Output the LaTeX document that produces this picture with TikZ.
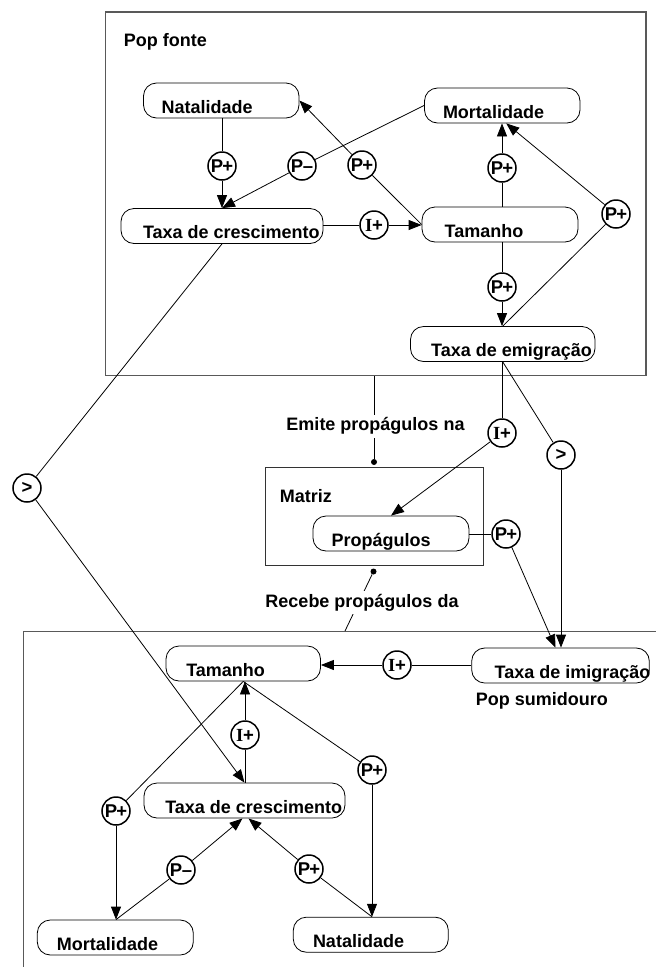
\documentclass[tikz,border=0pt]{standalone}
\usepackage{fontspec}
\setmainfont{Liberation Sans}
\newfontfamily\serifI{Liberation Serif}
\usetikzlibrary{arrows.meta}
\newcommand\bt[3]{\makebox[#1pt][l]{\hspace*{#2pt}#3}}
\begin{document}
\begin{tikzpicture}[x=1pt,y=-1pt,
  every node/.style={inner sep=0pt},
  box/.style={draw, line width=0.8pt, rounded corners=13pt, minimum height=35pt,
    text height=30pt, text depth=5pt, font=\fontsize{18}{20}\selectfont\bfseries, fill=white},
  circ/.style={draw, circle, line width=1.5pt, minimum size=28pt,
    font=\fontsize{18.5}{20}\selectfont\bfseries, fill=white},
  ctr/.style={draw=black!65, line width=1.3pt},
  lbl/.style={font=\fontsize{18}{20}\selectfont\bfseries},
  conn/.style={line width=0.8pt},
  arr/.style={conn, -{Triangle[length=13pt,width=10pt]}},
  dot/.style={circle, fill, minimum size=6pt}]
\useasboundingbox (0,0) rectangle (656,967);

% containers
\node[ctr, minimum width=540.6pt, minimum height=363.5pt] (fonte) at (375.7,193.75) {};
\node[ctr, draw=black!80, line width=1pt, minimum width=218pt, minimum height=98.5pt] (matriz) at (374.5,516.25) {};
\node[ctr, anchor=north west, minimum width=700pt, minimum height=400pt] (sink) at (23,631) {};

% boxes top
\node[box] (natA) at (221.25,100.5) {\bt{155.5}{18.2}{Natalidade}};
\node[box] (mortA) at (502.25,105.5) {\bt{155.5}{18.5}{Mortalidade}};
\node[box] (tcA) at (222,226) {\bt{202}{22}{Taxa de crescimento}};
\node[box] (tamA) at (500,224.5) {\bt{156}{22.6}{Tamanho}};
\node[box] (emA) at (502.75,344) {\bt{184.5}{20.6}{Taxa de emigração}};
% middle
\node[box] (propA) at (391,533.5) {\bt{156}{18.6}{Propágulos}};
% bottom
\node[box] (tamB) at (243.25,663.5) {\bt{154.5}{20.3}{Tamanho}};
\node[box] (imB) at (560.5,665.5) {\bt{177.6}{22.9}{Taxa de imigração}};
\node[box] (tcB) at (244.5,800.5) {\bt{201}{21.3}{Taxa de crescimento}};
\node[box] (mortB) at (115.3,937.5) {\bt{156}{19.7}{Mortalidade}};
\node[box] (natB) at (370.8,934.7) {\bt{155}{19.7}{Natalidade}};

% circles
\node[circ] (c1) at (222,166) {P\kern-1pt+};
\node[circ] (c2) at (302,166) {P\kern-0.5pt–};
\node[circ] (c3) at (362,165) {P\kern-1pt+};
\node[circ] (c4) at (374,225) {{\serifI I}+};
\node[circ] (c5) at (502,168) {P\kern-1pt+};
\node[circ] (c6) at (616,214) {P\kern-1pt+};
\node[circ] (c7) at (502,287) {P\kern-1pt+};
\node[circ] (gL) at (27,488) {>};
\node[circ] (c8) at (502,433) {{\serifI I}+};
\node[circ] (gR) at (561,455) {>};
\node[circ] (c9) at (506,534) {P\kern-1pt+};
\node[circ] (c10) at (397,665) {{\serifI I}+};
\node[circ] (c11) at (245,735) {{\serifI I}+};
\node[circ] (c12) at (116,811) {P\kern-1pt+};
\node[circ] (c13) at (372,770) {P\kern-1pt+};
\node[circ] (c14) at (181,870) {P\kern-0.5pt–};
\node[circ] (c15) at (309,869) {P\kern-1pt+};

% dots
\node[dot] (dotE) at (374,462) {};
\node[dot] (dotR) at (373.5,571.5) {};
\coordinate (rcvEnd) at (345,631);

% connectors top
\draw[conn] (natA.south -| c1) -- (c1);
\draw[arr] (c1) -- (tcA.north -| c1);
\draw[conn] (mortA.west) -- (c2);
\draw[arr] (c2) -- (tcA.north -| c1);
\draw[conn] (tamA.west) -- (c3);
\draw[arr] (c3) -- (natA.east);
\draw[conn] (tcA.east |- c4) -- (c4);
\draw[arr] (c4) -- (tamA.west |- c4);
\draw[conn] (tamA.north -| c5) -- (c5);
\draw[arr] (c5) -- (mortA.south -| c5);
\draw[conn] (emA.north) -- (c6);
\draw[arr] (c6) -- ([xshift=4pt]mortA.south);
\draw[conn] (tamA.south -| c7) -- (c7);
\draw[arr] (c7) -- (emA.north -| c7);

% connectors middle
\draw[conn] (tcA.south) -- (gL);
\draw[arr] (gL) -- (tcB.north);
\draw[conn] (emA.south -| c8) -- (c8);
\draw[arr] (c8) -- (propA.north);
\draw[conn] (emA.south) -- (gR);
\draw[arr] (gR) -- (imB.north -| gR);
\draw[conn] (propA.east |- c9) -- (c9);
\draw[arr] (c9) -- ([xshift=-5pt]imB.north);
\draw[conn] (fonte.south -| dotE) -- (dotE);
\draw[conn] (dotR) -- (rcvEnd);

% connectors bottom
\draw[conn] (imB.west |- c10) -- (c10);
\draw[arr] (c10) -- (tamB.east |- c10);
\draw[conn] (tcB.north -| c11) -- (c11);
\draw[arr] (c11) -- (tamB.south -| c11);
\draw[conn] (tamB.south) -- (c12);
\draw[arr] (c12) -- (mortB.north -| c12);
\draw[conn] (tamB.south) -- (c13);
\draw[arr] (c13) -- (natB.north -| c13);
\draw[conn] (mortB.north -| c12) -- (c14);
\draw[arr] (c14) -- ([xshift=-2pt]tcB.south);
\draw[conn] (natB.north -| c13) -- (c15);
\draw[arr] (c15) -- ([xshift=4pt]tcB.south);

% labels
\node[lbl, anchor=base west] (tfonte) at (123.7,46) {Pop fonte};
\node[lbl, anchor=base west] (tmatriz) at (279.7,502.7) {Matriz};
\node[lbl, anchor=base west] (tsink) at (475.7,705) {Pop sumidouro};
\node[lbl, anchor=base, fill=white, inner sep=3pt] (temite) at (375.5,430.7) {Emite propágulos na};
\node[lbl, anchor=base, fill=white, inner sep=3pt] (trecebe) at (362,607.3) {Recebe propágulos da};
\end{tikzpicture}
\end{document}
